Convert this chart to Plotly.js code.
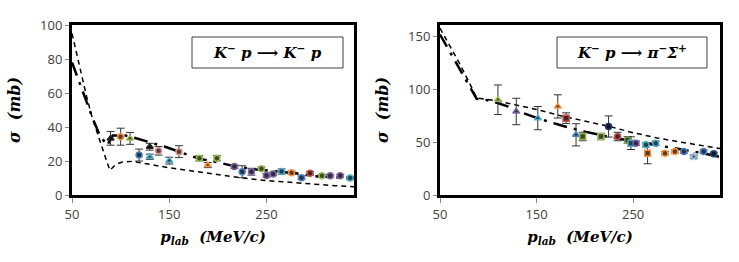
<!DOCTYPE html>
<html>
<head>
<meta charset="utf-8">
<script src="https://cdn.plot.ly/plotly-3.0.1.min.js"></script>
<style>html,body{margin:0;padding:0;background:#fff;}#chart{width:739px;height:262px;}</style>
</head>
<body>
<div id="chart"></div>
<script>
// ---------- Left panel: K- p -> K- p ----------
var leftX = [89.7, 100, 109.7, 119, 130, 130, 139, 150, 160, 181, 189.6, 199, 217, 225, 234.5, 244.8, 250, 256.8, 265.5, 275.8, 286, 294.8, 307, 315.5, 325.8, 336];
var leftY = [33.3, 34.3, 33.3, 23.5, 28.4, 22.5, 26, 20.2, 25.5, 21.6, 17.6, 21.6, 16.7, 13.7, 13.7, 15.5, 11.5, 12.4, 13.8, 13.1, 10.2, 12.8, 11.3, 11.3, 11.3, 10];
var leftErr = [4, 5, 3.5, 3.5, 2, 1.5, 2.5, 2, 3.5, 1.5, 1.5, 1.5, 1, 3.5, 2, 1, 1, 1, 1.5, 1, 1, 1, 0.8, 0.8, 0.8, 0.8];
var leftColors = ['#222222','#F79646','#9BBB59','#4F81BD','#222222','#4BACC6','#D99694','#4BACC6','#D99694','#9BBB59','#F79646','#9BBB59','#8064A2','#4F81BD','#8064A2','#9BBB59','#8064A2','#8064A2','#4BACC6','#F79646','#4F81BD','#C0504D','#9BBB59','#8064A2','#8064A2','#4BACC6'];
var leftSymbols = ['triangle-up','circle','triangle-up','circle','triangle-up','triangle-up','circle','triangle-up','circle','circle','triangle-up','circle','circle','circle','circle','circle','circle','circle','circle','circle','circle','circle','circle','circle','circle','circle'];

var leftDashX = [50, 55, 60, 65, 70, 75, 80, 85, 89, 95, 101, 112, 130, 150, 175, 200, 225, 250, 275, 300, 320, 340];
var leftDashY = [95, 82, 70, 58, 47, 38, 30, 21, 14.5, 18, 19.3, 19.8, 18, 16, 14, 12, 10, 8.5, 7.3, 6.3, 5.5, 4.8];
var leftDashDotX = [50, 55, 60, 67, 72, 78, 86, 92, 105, 115, 130, 145, 160, 180, 200, 220, 240, 260, 280, 300, 320, 340];
var leftDashDotY = [78, 70, 62, 51, 44, 36, 29, 35, 35, 33.5, 31, 28.5, 25.5, 21.5, 19.2, 16.5, 15, 13.8, 12.8, 11, 10.3, 9.8];

// ---------- Right panel: K- p -> pi- Sigma+ ----------
var rightX = [110, 129, 151.3, 172, 180.6, 190.9, 197.8, 216.7, 224.6, 234, 244.3, 247.8, 253, 263.3, 265, 273.4, 283, 293.3, 302.6, 312.9, 323, 333.5];
var rightY = [90.2, 79.1, 72.8, 83.9, 72.8, 57, 55.4, 55.4, 64.9, 55.4, 52.2, 49.1, 49.1, 47.5, 39.6, 49.1, 39.6, 41.1, 41.1, 36.4, 41.1, 39];
var rightErr = [14, 12.5, 11, 11, 5, 10.5, 4, 3, 10, 4, 3, 6, 2, 2, 10, 2, 1.5, 1.5, 1.5, 1.5, 1.5, 1.5];
var rightColors = ['#9BBB59','#8064A2','#4BACC6','#F79646','#C0504D','#4F81BD','#9BBB59','#9BBB59','#1F3864','#C0504D','#77933C','#4BACC6','#8064A2','#4BACC6','#F79646','#4BACC6','#F79646','#F79646','#4F81BD','#95B3D7','#4F81BD','#1F497D'];
var rightSymbols = ['triangle-up','triangle-up','triangle-up','triangle-up','square','triangle-up','square','square','circle','circle','circle','square','circle','circle','square','circle','circle','circle','circle','star','circle','circle'];

var rightDashX = [50, 60, 70, 80, 88, 95, 110, 130, 150, 175, 200, 225, 250, 275, 300, 325, 340];
var rightDashY = [158, 142, 125, 107, 92, 91, 89, 85, 81, 75, 70, 65, 59, 54, 50, 46, 44];
var rightDashDotX = [50, 60, 70, 80, 88, 95, 105, 120, 135, 150, 175, 200, 225, 250, 275, 300, 320, 340];
var rightDashDotY = [152, 136, 119, 103, 91, 90.5, 88.5, 84, 78, 73, 66, 60, 55, 51, 47, 43, 40, 36];

var xTicks = [50, 150, 250];
var leftYTicks = [0, 20, 40, 60, 80, 100];
var rightYTicks = [0, 50, 100, 150];

function darken(hex, f) {
  var n = parseInt(hex.slice(1), 16);
  var r = Math.round(((n >> 16) & 255) * f), g = Math.round(((n >> 8) & 255) * f), b = Math.round((n & 255) * f);
  return 'rgb(' + r + ',' + g + ',' + b + ')';
}

function pointsTrace(x, y, err, colors, symbols, xa, ya) {
  return {
    x: x, y: y, type: 'scatter', mode: 'markers', xaxis: xa, yaxis: ya,
    error_y: {type: 'data', array: err, visible: true, color: '#333333', thickness: 1, width: 4},
    marker: {size: 6, symbol: symbols, color: colors.map(function(c){return darken(c, 0.4);}),
             line: {color: colors, width: 1.5}},
    showlegend: false, hoverinfo: 'x+y'
  };
}
function lineTrace(x, y, dash, width, xa, ya) {
  return {x: x, y: y, type: 'scatter', mode: 'lines', xaxis: xa, yaxis: ya,
          line: {color: '#000000', width: width, dash: dash}, showlegend: false, hoverinfo: 'skip'};
}

var traces = [
  lineTrace(leftDashX, leftDashY, '5px,4px', 1.5, 'x', 'y'),
  lineTrace(leftDashDotX, leftDashDotY, '14px,7px,3px,7px', 2.5, 'x', 'y'),
  pointsTrace(leftX, leftY, leftErr, leftColors, leftSymbols, 'x', 'y'),
  lineTrace(rightDashX, rightDashY, '5px,4px', 1.5, 'x2', 'y2'),
  lineTrace(rightDashDotX, rightDashDotY, '14px,7px,3px,7px', 2.5, 'x2', 'y2'),
  pointsTrace(rightX, rightY, rightErr, rightColors, rightSymbols, 'x2', 'y2')
];

var tickFont = {family: 'Open Sans, Liberation Sans, sans-serif', size: 13, color: '#404040'};
var titleFont = {family: 'DejaVu Serif, serif', size: 15, color: '#000000'};
var yTop = 1 - 25/262, yBot = 1 - 195/262;

function xAxis(domain, anchor) {
  return {domain: domain, anchor: anchor, range: [50, 340], tickvals: xTicks, ticktext: xTicks.map(String),
    showgrid: false, zeroline: false, showline: true, linecolor: '#000000', linewidth: 3, mirror: true,
    ticks: 'outside', ticklen: 5, tickcolor: '#888888', tickwidth: 1, tickfont: tickFont,
    title: {text: '<b><i>p</i><sub><i>lab</i></sub>  <i>(MeV/c)</i></b>', font: titleFont, standoff: 10}};
}
function yAxis(range, ticks, anchor) {
  return {domain: [yBot, yTop], anchor: anchor, range: range, tickvals: ticks, ticktext: ticks.map(String),
    showgrid: false, zeroline: false, showline: true, linecolor: '#000000', linewidth: 3, mirror: true,
    ticks: 'outside', ticklen: 4, tickcolor: '#888888', tickwidth: 1, tickfont: tickFont,
    title: {text: '<b><i>σ</i>  <i>(mb)</i></b>', font: {family: 'DejaVu Serif, serif', size: 16, color: '#000'}, standoff: 16}};
}

var layout = {
  width: 739, height: 262, margin: {l: 0, r: 0, t: 0, b: 0},
  paper_bgcolor: '#ffffff', plot_bgcolor: '#ffffff',
  xaxis: xAxis([72/739, 354/739], 'y'),
  yaxis: yAxis([0, 100], leftYTicks, 'x'),
  xaxis2: xAxis([440/739, 720/739], 'y2'),
  yaxis2: yAxis([0, 161], rightYTicks, 'x2'),
  shapes: [
    {type: 'rect', xref: 'paper', yref: 'paper', x0: 192/739, x1: 343/739, y0: 1 - 68/262, y1: 1 - 37/262,
     line: {color: '#404040', width: 1}, fillcolor: '#ffffff'},
    {type: 'rect', xref: 'paper', yref: 'paper', x0: 557/739, x1: 707/739, y0: 1 - 68/262, y1: 1 - 37/262,
     line: {color: '#404040', width: 1}, fillcolor: '#ffffff'}
  ],
  annotations: [
    {xref: 'paper', yref: 'paper', x: 267.5/739, y: 1 - 52.5/262, xanchor: 'center', yanchor: 'middle', showarrow: false,
     text: '<b><i>K</i><sup>−</sup> <i>p</i> ⟶ <i>K</i><sup>−</sup> <i>p</i></b>',
     font: {family: 'DejaVu Serif, serif', size: 15, color: '#000'}},
    {xref: 'paper', yref: 'paper', x: 632/739, y: 1 - 52.5/262, xanchor: 'center', yanchor: 'middle', showarrow: false,
     text: '<b><i>K</i><sup>−</sup> <i>p</i> ⟶ <i>π</i><sup>−</sup><i>Σ</i><sup>+</sup></b>',
     font: {family: 'DejaVu Serif, serif', size: 15, color: '#000'}}
  ]
};

Plotly.newPlot('chart', traces, layout, {displayModeBar: false, staticPlot: true});
</script>
</body>
</html>
